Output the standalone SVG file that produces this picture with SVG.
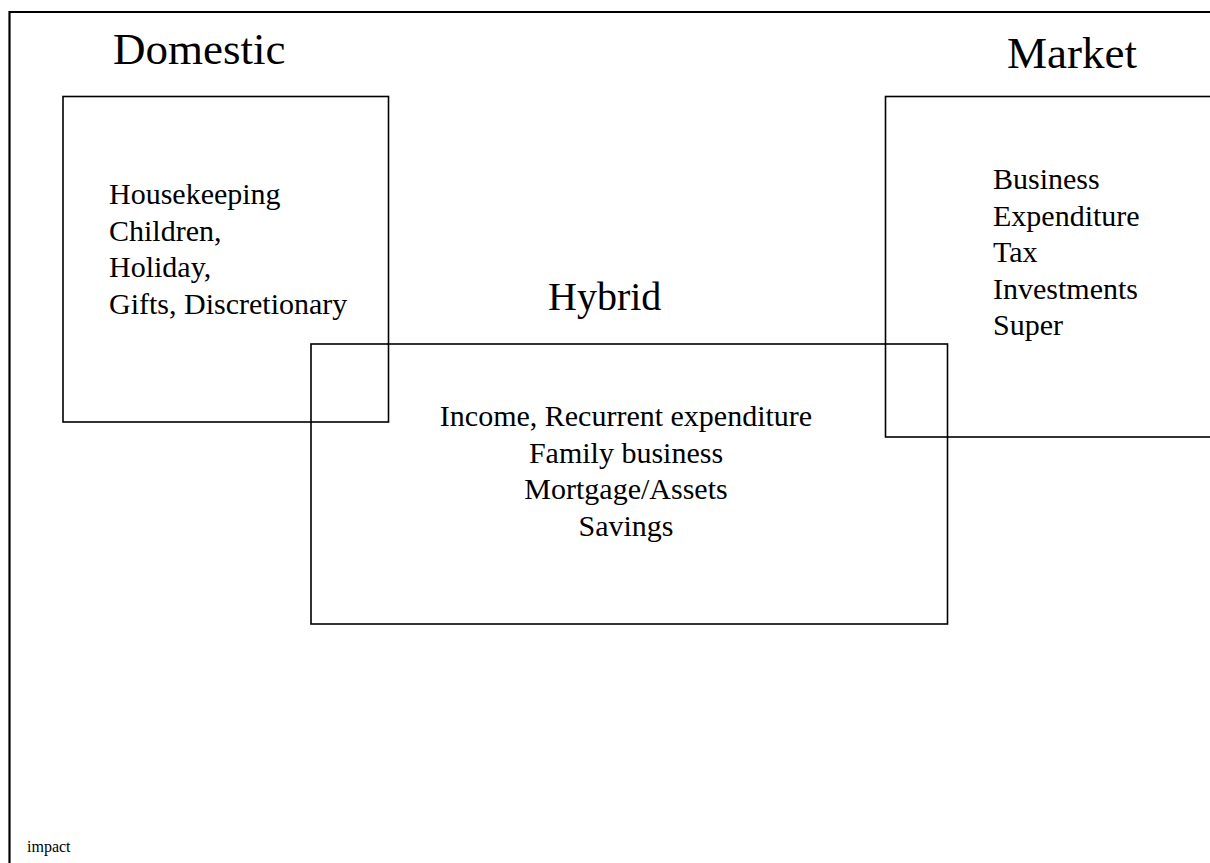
<svg xmlns="http://www.w3.org/2000/svg" width="1210" height="863" viewBox="0 0 1210 863">
<style>
.frame{fill:none;stroke:#000;stroke-width:2.2}
.box{fill:none;stroke:#000;stroke-width:1.6}
.title{font-family:"Liberation Serif","Times New Roman",serif;font-size:45px;fill:#000}
.body{font-family:"Liberation Serif","Times New Roman",serif;font-size:30px;fill:#000}
.small{font-family:"Liberation Serif","Times New Roman",serif;font-size:16px;fill:#000}
</style>
<rect width="1210" height="863" fill="#fff"/>
<path class="frame" d="M9.5,863 V12 H1210"/>
<g id="domestic">
<rect class="box" x="63" y="96.5" width="325.5" height="325.5"/>
<text class="title" x="113" y="64">Domestic</text>
<text class="body" x="109" y="204">Housekeeping</text>
<text class="body" x="109" y="240.5">Children,</text>
<text class="body" x="109" y="277">Holiday,</text>
<text class="body" x="109" y="313.5">Gifts, Discretionary</text>
</g>
<g id="market">
<rect class="box" x="885.5" y="96.5" width="340" height="340.5"/>
<text class="title" x="1007" y="68">Market</text>
<text class="body" x="993" y="189">Business</text>
<text class="body" x="993" y="225.5">Expenditure</text>
<text class="body" x="993" y="262">Tax</text>
<text class="body" x="993" y="298.5">Investments</text>
<text class="body" x="993" y="335">Super</text>
</g>
<g id="hybrid">
<rect class="box" x="311" y="344" width="636.5" height="280"/>
<text class="title" x="548" y="310" style="font-size:40px">Hybrid</text>
<text class="body" x="626" y="426" text-anchor="middle">Income, Recurrent expenditure</text>
<text class="body" x="626" y="462.5" text-anchor="middle">Family business</text>
<text class="body" x="626" y="499" text-anchor="middle">Mortgage/Assets</text>
<text class="body" x="626" y="535.5" text-anchor="middle">Savings</text>
</g>
<g id="connectors"></g>
<text class="small" x="27" y="852">impact</text>
</svg>
